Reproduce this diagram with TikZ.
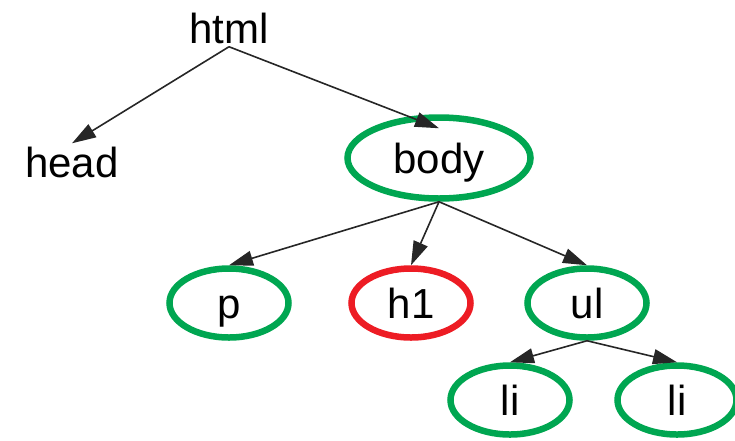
\documentclass[tikz,border=0pt]{standalone}
\usepackage{fontspec}
\setmainfont{Liberation Sans}
\usetikzlibrary{positioning,shapes.geometric,arrows.meta}
\definecolor{okgreen}{RGB}{0,166,81}
\definecolor{badred}{RGB}{237,28,36}

\begin{document}
\begin{tikzpicture}[on grid, thick, font=\fontsize{42}{50}\selectfont,
  text height=30pt, text depth=0pt,
  main/.style = {draw=okgreen, ellipse, line width=6.5pt, inner sep=0pt, minimum width=119pt, minimum height=69pt},
  wrong/.style = {main, draw=badred},
  link/.style = {-{Triangle[length=24pt,width=15pt]}, line width=1.6pt, black!85}]
\useasboundingbox (0,0) rectangle (735pt,-440pt);
\node (html) at (229pt,-28pt) {html};
\node (head) [below left=134pt and 157pt of html] {head};
\node[main, minimum width=183pt, minimum height=81pt] (body) [below right=130pt and 210pt of html] {body};
\node[main] (p) [below left=145pt and 210pt of body] {p};
\node[wrong] (h1) [below left=145pt and 28pt of body] {h1};
\node[main] (ul) [below right=145pt and 148pt of body] {ul};
\node[main] (li1) [below left=97pt and 77pt of ul] {li};
\node[main] (li2) [below right=97pt and 90pt of ul] {li};

\draw[link] (html.south) -- (head.north);
\draw[link] (html.south) -- ([yshift=-14pt]body.north);
\draw[link] (body.south) -- (p.north);
\draw[link] (body.south) -- (h1.north);
\draw[link] (body.south) -- (ul.north);
\draw[link] (ul.south) -- (li1.north);
\draw[link] (ul.south) -- (li2.north);
\end{tikzpicture}
\end{document}
